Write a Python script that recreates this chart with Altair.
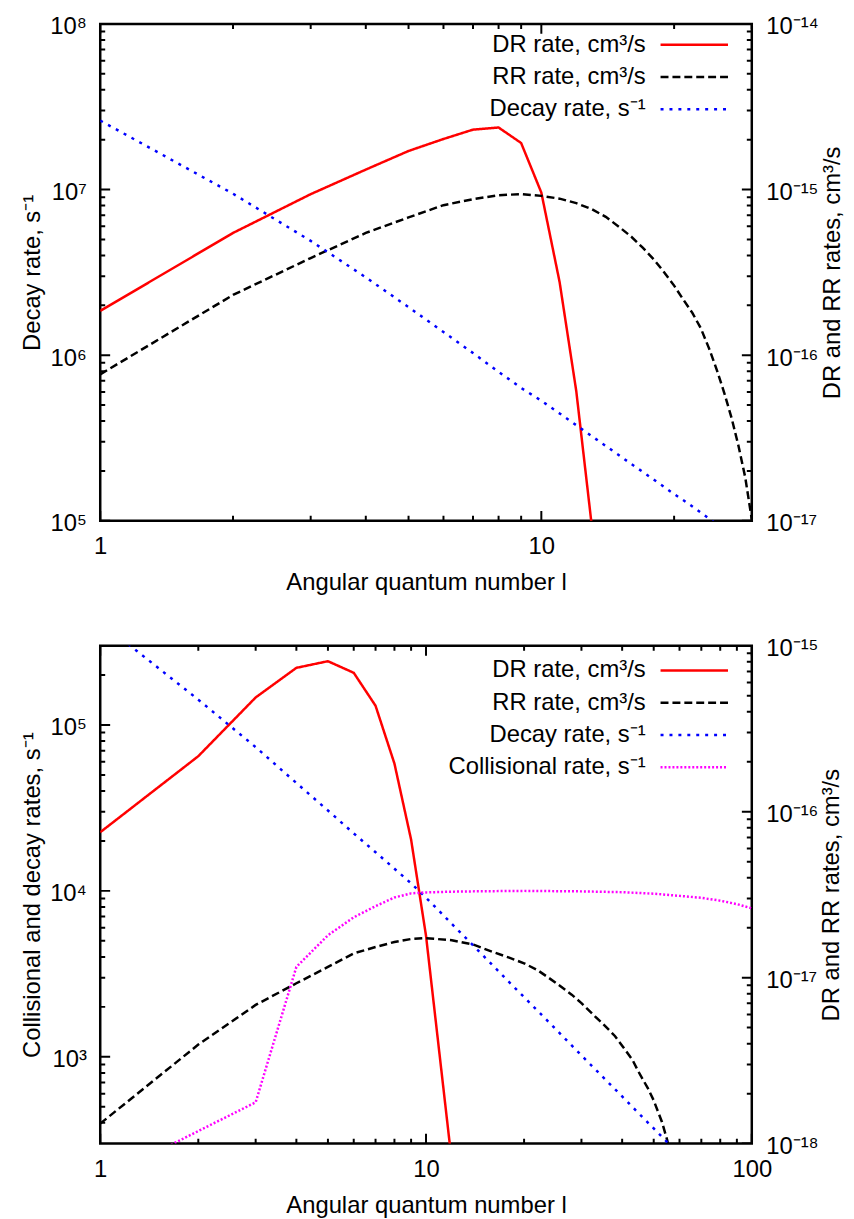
import math
import altair as alt
import pandas as pd

FONT = "Liberation Sans"
FS = 24

SER_DR = "DR rate, cm³/s"
SER_RR = "RR rate, cm³/s"
SER_DECAY = "Decay rate, s⁻¹"
SER_COLL = "Collisional rate, s⁻¹"

# ---------------- top panel data ----------------
top_dr_l = [1, 2, 3, 4, 5, 6, 7, 8, 9, 10, 11, 12, 13]
top_dr = [1.85e-16, 5.47e-16, 9.38e-16, 1.32e-15, 1.71e-15, 2.02e-15, 2.30e-15,
          2.37e-15, 1.91e-15, 9.59e-16, 2.77e-16, 6.08e-17, 9.55e-18]

top_rr_l = list(range(1, 31))
top_rr = [7.66e-17, 2.31e-16, 3.86e-16, 5.47e-16, 6.79e-16, 8.05e-16, 8.75e-16,
          9.25e-16, 9.38e-16, 9.16e-16, 8.81e-16, 8.28e-16, 7.62e-16, 6.84e-16,
          5.96e-16, 5.19e-16, 4.44e-16, 3.78e-16, 3.16e-16, 2.63e-16, 2.16e-16,
          1.80e-16, 1.45e-16, 1.10e-16, 8.13e-17, 5.89e-17, 4.17e-17, 2.82e-17,
          1.82e-17, 1.02e-17]

top_decay_l = list(range(1, 26))
top_decay = [2.61e7, 9.44e6, 4.90e6, 2.95e6, 1.95e6, 1.38e6, 1.03e6, 7.94e5,
             6.34e5, 5.31e5, 4.45e5, 3.78e5, 3.25e5, 2.83e5, 2.49e5, 2.20e5,
             1.97e5, 1.77e5, 1.60e5, 1.45e5, 1.33e5, 1.22e5, 1.12e5, 1.03e5, 9.55e4]

# ---------------- bottom panel data ----------------
bot_dr_l = [1, 2, 3, 4, 5, 6, 7, 8, 9, 10, 11, 12]
bot_dr = [7.52e-17, 2.16e-16, 4.88e-16, 7.36e-16, 8.07e-16, 6.87e-16, 4.35e-16,
          1.95e-16, 6.79e-17, 1.79e-17, 3.47e-18, 7.76e-19]

bot_rr_l = [1, 2, 3, 4, 5, 6, 7, 8, 9, 10, 12, 14, 16, 18, 20, 22, 25, 28, 30, 33,
            35, 38, 40, 43, 45, 48, 50, 53, 55, 60]
bot_rr = [1.32e-18, 3.95e-18, 6.85e-18, 9.25e-18, 1.16e-17, 1.40e-17, 1.53e-17,
          1.64e-17, 1.71e-17, 1.73e-17, 1.68e-17, 1.58e-17, 1.43e-17, 1.32e-17,
          1.22e-17, 1.11e-17, 9.33e-18, 7.90e-18, 7.03e-18, 5.85e-18, 5.25e-18,
          4.45e-18, 3.89e-18, 3.20e-18, 2.69e-18, 2.15e-18, 1.82e-18, 1.35e-18,
          1.05e-18, 5.0e-19]

bot_decay_l = [1, 2, 3, 4, 5, 6, 7, 8, 9, 10, 11, 12, 13, 14, 15, 16, 18, 20, 25,
               30, 35, 40, 45, 50, 55, 60]
bot_decay = [4.17e5, 1.42e5, 7.35e4, 4.47e4, 3.05e4, 2.22e4, 1.71e4, 1.36e4,
             1.11e4, 9.10e3, 7.53e3, 6.32e3, 5.40e3, 4.66e3, 4.06e3, 3.57e3,
             2.82e3, 2.29e3, 1.47e3, 1.02e3, 752, 577, 456, 370, 306, 258]

bot_coll_l = [1, 2, 3, 4, 5, 6, 7, 8, 9, 10, 12, 15, 20, 30, 40, 50, 60, 70, 80,
              90, 100]
bot_coll = [180, 357, 532, 3480, 5400, 6930, 8090, 9120, 9660, 9790, 9890, 9950,
            10000, 9930, 9820, 9620, 9330, 9080, 8730, 8320, 7850]

# ---------------- ticks ----------------
top_x_major = [1, 10]
top_x_minor = [2, 3, 4, 5, 6, 7, 8, 9, 20, 30]
bot_x_major = [1, 10, 100]
bot_x_minor = [2, 3, 4, 5, 6, 7, 8, 9, 20, 30, 40, 50, 60, 70, 80, 90]

top_yl_major = [1e5, 1e6, 1e7, 1e8]
top_yl_labels = ["10⁵", "10⁶", "10⁷", "10⁸"]
top_yr_major = [1e-17, 1e-16, 1e-15, 1e-14]
top_yr_labels = ["10⁻¹⁷", "10⁻¹⁶", "10⁻¹⁵", "10⁻¹⁴"]
bot_yl_major = [1e3, 1e4, 1e5]
bot_yl_labels = ["10³", "10⁴", "10⁵"]
bot_yr_major = [1e-18, 1e-17, 1e-16, 1e-15]
bot_yr_labels = ["10⁻¹⁸", "10⁻¹⁷", "10⁻¹⁶", "10⁻¹⁵"]


def minors(decades):
    return [k * 10.0 ** e for e in decades for k in range(2, 10)]


top_yl_minor = minors([5, 6, 7])
top_yr_minor = minors([-17, -16, -15])
bot_yl_minor = [400, 500, 600, 700, 800, 900] + minors([3, 4]) + [2e5]
bot_yr_minor = minors([-18, -17, -16])

MAJOR_LEN = 10
MINOR_LEN = 5


def frame(parts):
    rows = []
    for series, side, ls, vs in parts:
        for l, v in zip(ls, vs):
            rows.append({"l": l, "v": v, "series": series, "side": side})
    return pd.DataFrame(rows)


def sup_expr(values, labels):
    expr = "''"
    for v, lab in zip(values, labels):
        e = round(math.log10(v))
        expr = f"round(log(datum.value)/LN10) == {e} ? '{lab}' : ({expr})"
    return expr


def label_axis(orient, values, labels, title, title_pad, label_pad=14,
               label_offset=0, title_angle=None, title_baseline=None):
    kw = dict(orient=orient, values=values, ticks=False, domain=False, grid=False,
              labelExpr=labels, labelFont=FONT, labelFontSize=FS, labelColor="black",
              labelPadding=label_pad, labelOverlap=False, labelFlush=False,
              labelOffset=label_offset, title=title, titleFont=FONT,
              titleFontSize=FS, titleFontWeight="normal", titleColor="black",
              titlePadding=title_pad)
    if title_angle is not None:
        kw["titleAngle"] = title_angle
    if title_baseline is not None:
        kw["titleBaseline"] = title_baseline
    return alt.Axis(**kw)


def tick_layer(values, channel, scale, edge, length):
    """Inward gnuplot-style ticks: a tick of twice the length centred on the
    frame edge, clipped to the plot area."""
    df = pd.DataFrame({"t": values})
    if channel == "x":
        return alt.Chart(df).mark_tick(
            clip=True, size=2 * length, thickness=2, color="black", opacity=1,
            orient="vertical").encode(
            x=alt.X("t:Q", scale=scale, axis=None), y=alt.value(edge))
    return alt.Chart(df).mark_tick(
        clip=True, size=2 * length, thickness=2, color="black", opacity=1,
        orient="horizontal").encode(
        y=alt.Y("t:Q", scale=scale, axis=None), x=alt.value(edge))


def make_legend(ly):
    # 68px long line sample drawn as a custom path (size 400 -> scale 10)
    return alt.Legend(orient="none", legendX=587, legendY=ly, title=None,
                      symbolType="M-3.4,0H3.4", symbolSize=400, symbolStrokeWidth=2.5,
                      labelAlign="right", labelOffset=alt.ExprRef(expr="-61"),
                      labelFont=FONT, labelFontSize=FS, labelColor="black",
                      labelLimit=500, rowPadding=8.5, padding=0,
                      direction="vertical")


def panel(df, w, h, xdom, xmaj, xmin, ldom, lmaj, llab, lmin, ltitle,
          rdom, rmaj, rlab, rmin, rtitle, series, colors, dashes, legend_y):
    xs = alt.Scale(type="log", domain=xdom, nice=False)
    lsc = alt.Scale(type="log", domain=ldom, nice=False)
    rsc = alt.Scale(type="log", domain=rdom, nice=False)
    leg = make_legend(legend_y)
    color = alt.Color("series:N", scale=alt.Scale(domain=series, range=colors), legend=leg)
    dash = alt.StrokeDash("series:N", scale=alt.Scale(domain=series, range=dashes), legend=leg)
    base = alt.Chart(df)
    xlab = "format(datum.value, 'd')"
    right = base.transform_filter(alt.datum.side == "right").mark_line(
        clip=True, strokeWidth=2.5).encode(
        x=alt.X("l:Q", scale=xs, axis=None),
        y=alt.Y("v:Q", scale=rsc, axis=label_axis(
            "right", rmaj, sup_expr(rmaj, rlab), rtitle, 2, label_offset=3,
            title_angle=270, title_baseline="top")),
        color=color, strokeDash=dash)
    left = base.transform_filter(alt.datum.side == "left").mark_line(
        clip=True, strokeWidth=2.5).encode(
        x=alt.X("l:Q", scale=xs, axis=label_axis(
            "bottom", xmaj, xlab, "Angular quantum number l", 12)),
        y=alt.Y("v:Q", scale=lsc, axis=label_axis(
            "left", lmaj, sup_expr(lmaj, llab), ltitle, 5, label_offset=3)),
        color=color, strokeDash=dash)
    ticks = [
        tick_layer(xmaj, "x", xs, 0, MAJOR_LEN),
        tick_layer(xmaj, "x", xs, h, MAJOR_LEN),
        tick_layer(xmin, "x", xs, 0, MINOR_LEN),
        tick_layer(xmin, "x", xs, h, MINOR_LEN),
        tick_layer(lmaj, "y", lsc, 0, MAJOR_LEN),
        tick_layer(lmin, "y", lsc, 0, MINOR_LEN),
        tick_layer(rmaj, "y", rsc, w, MAJOR_LEN),
        tick_layer(rmin, "y", rsc, w, MINOR_LEN),
    ]
    return alt.layer(right, left, *ticks).resolve_scale(
        y="independent").resolve_axis(x="independent", y="independent").properties(
        width=w, height=h)


df_top = frame([
    (SER_DR, "right", top_dr_l, top_dr),
    (SER_RR, "right", top_rr_l, top_rr),
    (SER_DECAY, "left", top_decay_l, top_decay),
])
df_bot = frame([
    (SER_DR, "right", bot_dr_l, bot_dr),
    (SER_RR, "right", bot_rr_l, bot_rr),
    (SER_DECAY, "left", bot_decay_l, bot_decay),
    (SER_COLL, "left", bot_coll_l, bot_coll),
])

top = panel(df_top, 657, 501, [1, 30], top_x_major, top_x_minor,
            [1e5, 1e8], top_yl_major, top_yl_labels, top_yl_minor, "Decay rate, s⁻¹",
            [1e-17, 1e-14], top_yr_major, top_yr_labels, top_yr_minor,
            "DR and RR rates, cm³/s",
            [SER_DR, SER_RR, SER_DECAY], ["#ff0000", "#000000", "#0000ff"],
            [[1, 0], [8, 4], [3, 6]], 9)

bottom = panel(df_bot, 657, 502, [1, 100], bot_x_major, bot_x_minor,
               [300, 3e5], bot_yl_major, bot_yl_labels, bot_yl_minor,
               "Collisional and decay rates, s⁻¹",
               [1e-18, 1e-15], bot_yr_major, bot_yr_labels, bot_yr_minor,
               "DR and RR rates, cm³/s",
               [SER_DR, SER_RR, SER_DECAY, SER_COLL],
               ["#ff0000", "#000000", "#0000ff", "#ff00ff"],
               [[1, 0], [8, 4], [3, 6], [2, 2]], 13)

chart = alt.vconcat(top, bottom, spacing=39).resolve_scale(
    x="independent", y="independent", color="independent", strokeDash="independent"
).resolve_legend(color="independent", strokeDash="independent").properties(
    padding={"left": 11, "top": 0, "right": 0, "bottom": 0}
).configure_view(stroke="black", strokeWidth=2.5)

chart.save("out.html", embed_options={"renderer": "svg", "actions": False})
